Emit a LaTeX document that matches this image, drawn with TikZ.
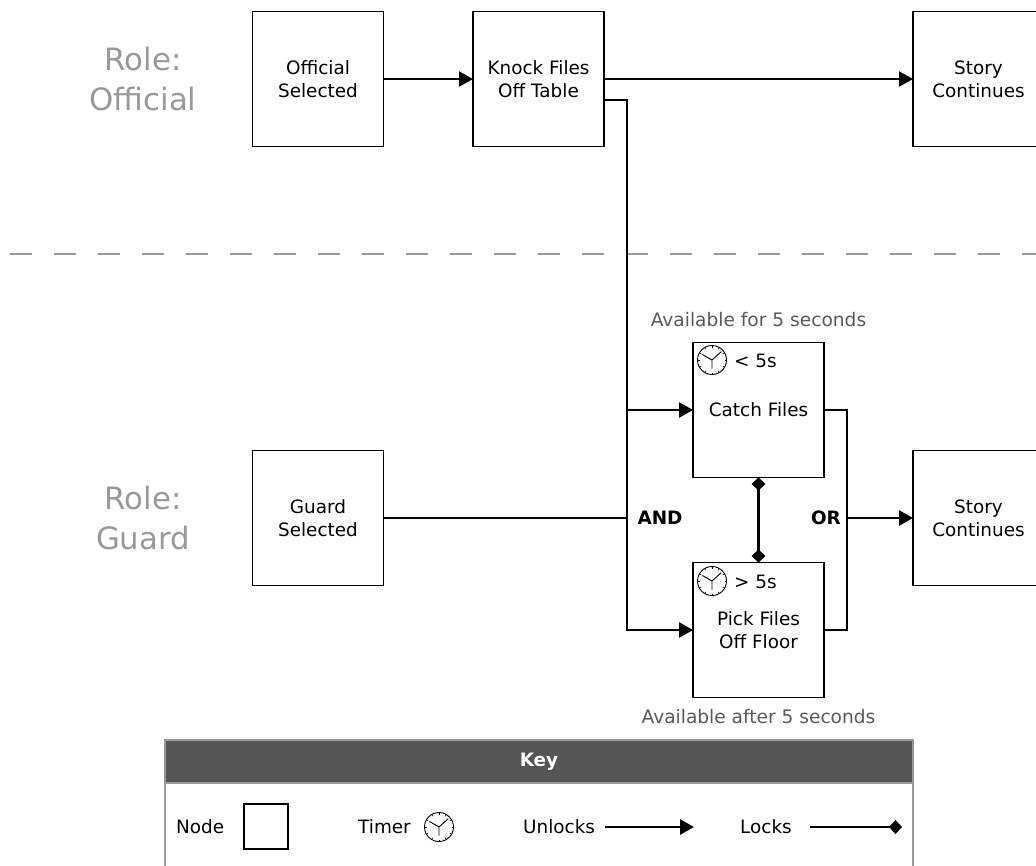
\documentclass[tikz,border=0pt]{standalone}
\usepackage{fontspec}
\setmainfont{DejaVu Sans}
\usetikzlibrary{calc}
\usetikzlibrary{arrows.meta}
\definecolor{roletext}{HTML}{999999}
\definecolor{notetext}{HTML}{5A5A5A}
\definecolor{keyhead}{HTML}{555555}
\tikzset{
  story/.style={draw,line width=1.2pt,outer sep=0pt,minimum width=131pt,minimum height=135pt,inner sep=0pt,align=center,font=\fontsize{18.4}{23}\selectfont},
  role/.style={text=roletext,align=center,inner sep=0pt,font=\fontsize{30.8}{40}\selectfont},
  note/.style={text=notetext,inner sep=0pt,font=\fontsize{18.6}{22}\selectfont},
  plain/.style={inner sep=0pt,font=\fontsize{18.4}{23}\selectfont},
  logic/.style={inner sep=0pt,font=\fontsize{18.4}{23}\selectfont\bfseries},
  unlocks/.style={line width=2.7pt,-{Triangle[length=14pt,width=15pt]}},
  locks/.style={line width=2.4pt,-{Diamond[length=13pt,width=14pt]}},
  both locks/.style={line width=2.7pt,{Diamond[length=13pt,width=14pt]}-{Diamond[length=13pt,width=14pt]}},
  wire/.style={line width=2.7pt},
  pics/timer/.style={code={
    \draw[line width=0.9pt] (0,0) circle (14.5);
    \foreach \a in {0,30,...,330} {\draw[line width=0.6pt] (\a:14.5) -- (\a:12.5);}
    \draw[line width=0.9pt] (0,0) -- (-42:12.5) (0,0) -- (-150:11) (0,0) -- (90:8.5);
  }},
}
\begin{document}
\begin{tikzpicture}[x=1pt,y=-1pt]
\useasboundingbox (0,0) rectangle (1036,865);

\node[role] (roleofficial) at (143,79.5) {Role:\\Official};
\node[role] (roleguard) at (143,518.5) {Role:\\Guard};
\coordinate (dashl) at (10,254);
\coordinate (dashr) at (1036,254);
\draw[roletext,line width=2pt,dash pattern=on 22pt off 22pt] (dashl) -- (dashr);

\node[story] (official) at (318,79) {Official\\Selected};
\node[story] (knock) at (538.5,79) {Knock Files\\Off Table};
\node[story] (story1) at (978.5,79) {Story\\Continues};
\node[story] (guard) at (318,518) {Guard\\Selected};
\node[story] (catch) at (758.5,410) {Catch Files};
\node[story] (pick) at (758.5,630) {Pick Files\\Off Floor};
\node[story] (story2) at (978.5,518) {Story\\Continues};

\node[note] (catchnote) at (758.5,320) {Available for 5 seconds};
\node[note] (picknote) at (758.5,717) {Available after 5 seconds};
\pic at (712,360) {timer};
\pic at (712,581) {timer};
\node[plain,anchor=west] (catchtime) at (734,361) {< 5s};
\node[plain,anchor=west] (picktime) at (734,582) {> 5s};

\coordinate (knockout) at ($(knock.east)+(0,21)$);
\coordinate (andtop) at ($(knockout)+(23,0)$);
\coordinate (andbot) at (andtop |- pick.west);
\coordinate (andcatch) at (andtop |- catch.west);
\coordinate (andguard) at (andtop |- guard.east);
\coordinate (ortop) at ($(catch.east)+(23,0)$);
\coordinate (orbot) at (ortop |- pick.east);
\coordinate (ormid) at (ortop |- story2.west);

\draw[unlocks,line width=2pt] (official) -- (knock);
\draw[unlocks,line width=2pt] (knock) -- (story1);
\draw[wire] (knockout) -- (andtop) -- (andbot) -- ($(andbot)+(10,0)$);
\draw[unlocks] (andcatch) -- (catch.west);
\draw[unlocks] (andbot) -- (pick.west);
\draw[wire,line width=2pt] (guard.east) -- (andguard);
\draw[wire] (catch.east) -- (ortop) -- (orbot) -- (pick.east);
\draw[unlocks] (ormid) -- (story2.west);
\draw[both locks] (catch) -- (pick);

\node[logic] (and) at (660,518) {AND};
\node[logic] (or) at (826,518) {OR};

\node[draw=roletext,line width=2pt,minimum width=748pt,minimum height=180pt,anchor=north west,inner sep=0pt] (keybox) at (164,739) {};
\node[draw=roletext,fill=keyhead,line width=2pt,minimum width=748pt,minimum height=43pt,anchor=north west,inner sep=0pt,text=white,font=\fontsize{18.4}{23}\selectfont\bfseries] (keytitle) at (164,739) {Key};

\node[plain,anchor=west] (keynode) at (176,827) {Node};
\node[draw,line width=1.2pt,minimum width=44pt,minimum height=45pt,inner sep=0pt] (keysquare) at (266,826.5) {};
\node[plain,anchor=west] (keytimer) at (358,827) {Timer};
\pic at (439,827) {timer};
\node[plain,anchor=west] (keyunlocks) at (523,827) {Unlocks};
\coordinate (unlocksa) at (605,827);
\coordinate (unlocksb) at (694,827);
\draw[unlocks] (unlocksa) -- (unlocksb);
\node[plain,anchor=west] (keylocks) at (740,827) {Locks};
\coordinate (locksa) at (810,827);
\coordinate (locksb) at (902,827);
\draw[locks] (locksa) -- (locksb);
\end{tikzpicture}
\end{document}
